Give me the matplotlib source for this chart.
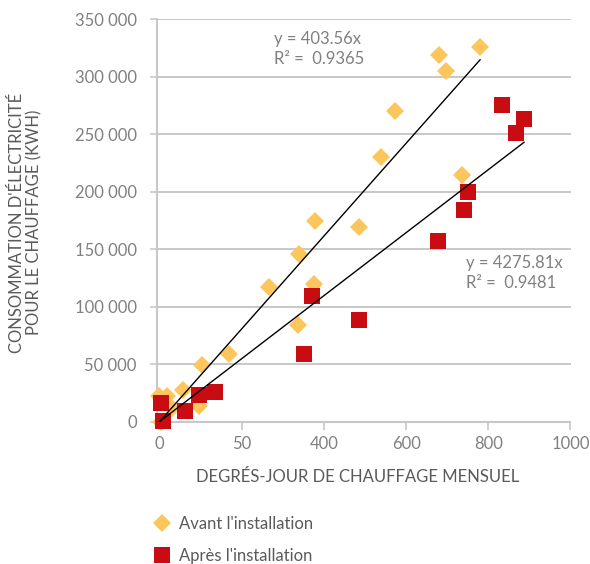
import matplotlib
matplotlib.use("Agg")
import matplotlib.pyplot as plt
from matplotlib.lines import Line2D
import numpy as np

plt.rcParams['font.family'] = ['Lato', 'DejaVu Sans']

# ---- data ----
avant_x = [0, 3, 19, 31, 57, 96, 104, 170, 267, 337, 339, 375, 379, 485, 540, 572, 680, 698, 737, 780]
avant_y = [22000, 0, 22000, 12350, 27500, 13750, 49400, 59000, 117300, 84500, 146000, 119600, 174600,
           169600, 230000, 270000, 319000, 305000, 215000, 326000]
apres_x = [4, 9, 63, 96, 136, 352, 370, 486, 678, 741, 751, 834, 868, 887]
apres_y = [16000, 1000, 9600, 23400, 25500, 58800, 109400, 88600, 157600, 184000, 199700, 275400, 251500, 263000]
trend_slopes = [403.56, 274.0]
trend_labels = ["y = 403.56x\nR\u00b2 =  0.9365", "y = 4275.81x\nR\u00b2 =  0.9481"]
series_names = ["Avant l'installation", "Apr\u00e8s l'installation"]
x_ticks = [0, 200, 400, 600, 800, 1000]
x_tick_labels = ["0", "50", "400", "600", "800", "1000"]
y_ticks = [0, 50000, 100000, 150000, 200000, 250000, 300000, 350000]
y_tick_labels = ["0", "50 000", "100 000", "150 000", "200 000", "250 000", "300 000", "350 000"]

ORANGE = "#FDC65C"
RED = "#C90C12"
GREY_AX = "#c8c8c8"
GREY_TXT = "#808080"
DARK_TXT = "#5a5a5a"

fig = plt.figure(figsize=(5.90, 5.64), dpi=100)
ax = fig.add_axes([157/590, 1-421.7/564, (570.5-157)/590, (421.7-19.3)/564])

ax.set_xlim(-6, 1000)
ax.set_ylim(0, 350000)

ax.plot(avant_x, avant_y, linestyle='none', marker='D', markersize=9.0,
        color=ORANGE, markeredgewidth=0, zorder=3, clip_on=False)
ax.plot(apres_x, apres_y, linestyle='none', marker='s', markersize=11.7,
        color=RED, markeredgewidth=0, zorder=4, clip_on=False)

for xs, slope in zip([avant_x, apres_x], trend_slopes):
    xx = np.array([0, max(xs)])
    ax.plot(xx, slope * xx, color='black', lw=1.0, zorder=5)

fig.text(274/590, 1-31/564, trend_labels[0], color=GREY_TXT, fontsize=12,
         va='top', ha='left', linespacing=1.3)
fig.text(465.7/590, 1-255/564, trend_labels[1], color=GREY_TXT, fontsize=12,
         va='top', ha='left', linespacing=1.3)

ax.set_xticks(x_ticks)
ax.set_xticklabels(x_tick_labels)
ax.set_yticks(y_ticks)
ax.set_yticklabels(y_tick_labels)
ax.tick_params(axis='x', direction='out', length=6, width=1.2, color=GREY_AX,
               labelcolor=GREY_TXT, labelsize=12, pad=4)
ax.tick_params(axis='y', direction='out', length=5, width=1.2, color=GREY_AX,
               labelcolor=GREY_TXT, labelsize=12, pad=9.5)

ax.grid(axis='y', color='#bfbfbf', lw=1.2)
ax.set_axisbelow(True)
for s in ['top', 'right']:
    ax.spines[s].set_visible(False)
for s in ['left', 'bottom']:
    ax.spines[s].set_color(GREY_AX)
    ax.spines[s].set_linewidth(1.5)

fig.text(358/590, 1-477/564, "DEGR\u00c9S-JOUR DE CHAUFFAGE MENSUEL", color=DARK_TXT,
         fontsize=12, ha='center', va='center')
fig.text(26/590, 1-222.5/564, "CONSOMMATION D'\u00c9LECTRICIT\u00c9\nPOUR LE CHAUFFAGE (KWH)",
         color=DARK_TXT, fontsize=12, ha='center', va='center', rotation=90,
         linespacing=1.1, multialignment='center')

handles = [Line2D([], [], linestyle='none', marker='D', markersize=9, color=ORANGE, markeredgewidth=0),
           Line2D([], [], linestyle='none', marker='s', markersize=11, color=RED, markeredgewidth=0)]
fig.legend(handles, series_names, loc='upper left', bbox_to_anchor=(153.4/590, 1-516/564),
           frameon=False, fontsize=12, handlelength=1.0, handletextpad=0.55,
           labelspacing=0.95, borderpad=0, borderaxespad=0, labelcolor=DARK_TXT)

fig.savefig("out.png", dpi=100)
